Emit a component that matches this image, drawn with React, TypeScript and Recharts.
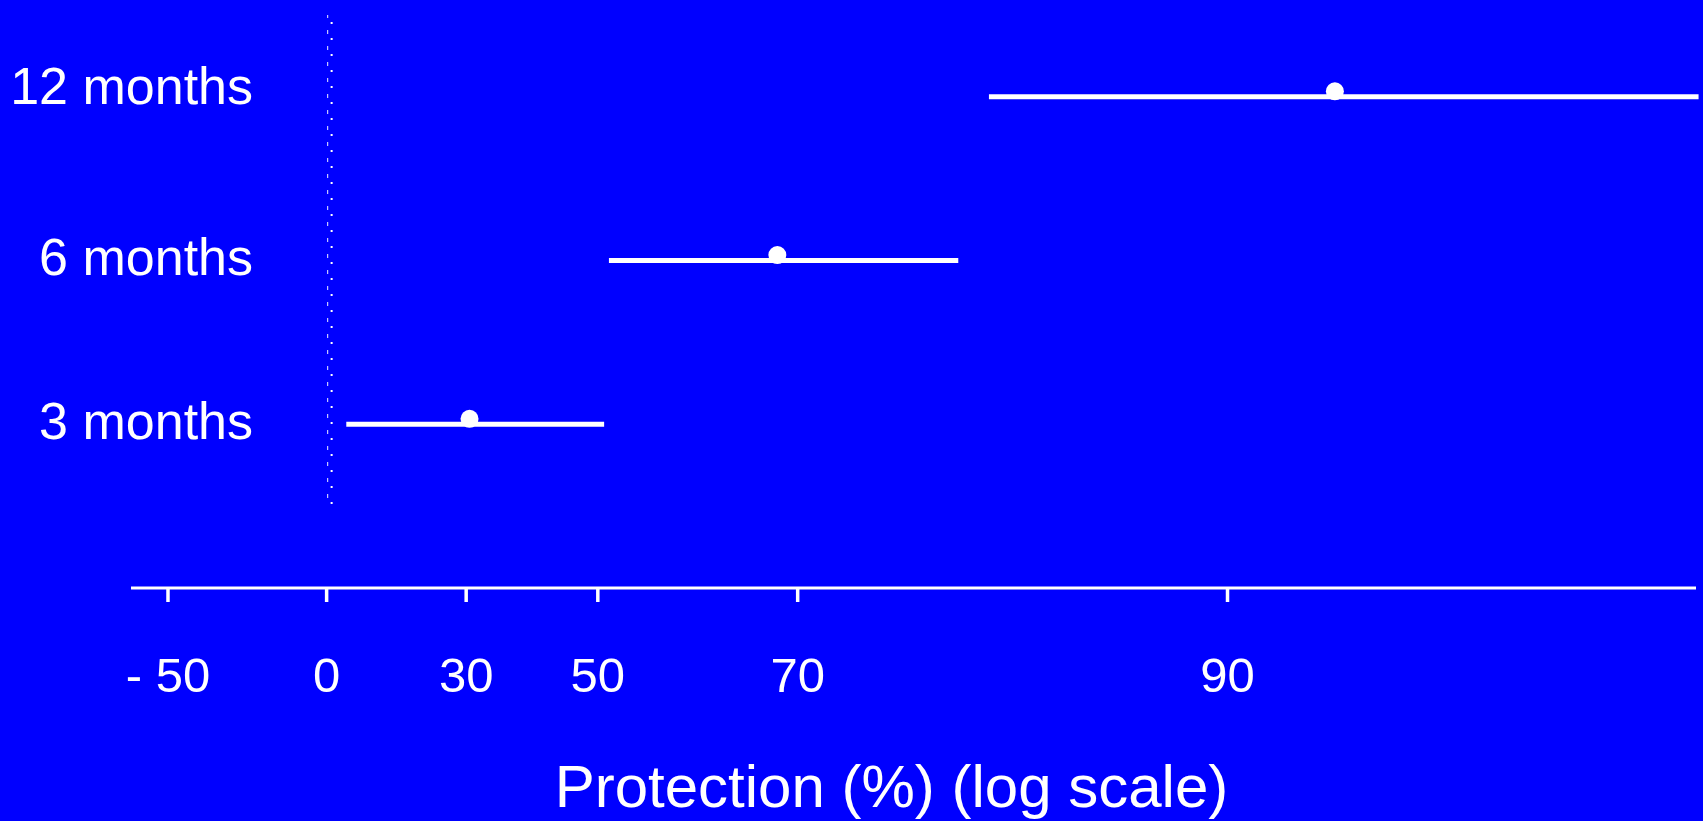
import { ErrorBar, ReferenceLine, Scatter, ScatterChart, XAxis, YAxis } from "recharts";

const periods = ["12 months", "6 months", "3 months"];
const rowPos = [3, 2, 1];
const protection = [92.4, 68.4, 30.6];
const ciLow = [81.6, 51.4, 4.9];
const ciHigh = [97, 80.1, 50.8];
const tickPercents = [-50, 0, 30, 50, 70, 90];

const FONT = "'Liberation Sans', Arial, Helvetica, sans-serif";
const BLUE = "#0000ff";

// protection (%) -> relative risk; the axis is log(RR), reversed
const toRR = (p: number) => 1 - p / 100;

const rows = periods.map((name, i) => {
  const rr = toRR(protection[i]);
  return {
    name,
    y: rowPos[i],
    rr,
    err: [rr - toRR(ciHigh[i]), toRR(ciLow[i]) - rr],
  };
});

const tickRR = tickPercents.map(toRR);

function fmtPct(v: number) {
  const p = Math.round((1 - v) * 100);
  return p < 0 ? `- ${-p}` : `${p}`;
}

function PeriodTick(props: any) {
  const { x, y, payload } = props;
  const i = rowPos.indexOf(payload.value);
  // the top label sits a little higher than its row in the original
  const nudge = i === 0 ? -8 : -1;
  return (
    <text x={x} y={y + nudge} dx={122} dy="0.3em" textAnchor="end" fill="#fff" fontSize={52} fontFamily={FONT}>
      {periods[i]}
    </text>
  );
}

function Dot(props: any) {
  return <circle cx={props.cx} cy={props.cy - 5.5} r={9} fill="#fff" />;
}

// dotted "no effect" line: a faint slash next to each dot
function NullLine(props: any) {
  const { x1, y1, x2, y2 } = props;
  return (
    <g>
      <line x1={x1 + 1} y1={y1} x2={x2 + 1} y2={y2} stroke="#c8c8ff" strokeWidth={1.2} strokeDasharray="4 12" />
      <line x1={x1 + 5} y1={y1 + 6} x2={x2 + 5} y2={y2 + 6} stroke="#fff" strokeWidth={2} strokeDasharray="2 14" />
    </g>
  );
}

export default function App() {
  return (
    <div style={{ width: 1703, height: 821, background: BLUE }}>
      <style>{"html,body{margin:0;padding:0;background:#0000ff;overflow:hidden}"}</style>
      <ScatterChart width={1703} height={821} margin={{ top: 15, right: 7, bottom: 0, left: 0 }}>
        <XAxis
          dataKey="rr"
          type="number"
          scale="log"
          reversed
          allowDataOverflow
          domain={[Math.exp(-3.5), Math.exp(0.5)]}
          ticks={tickRR}
          tickFormatter={fmtPct}
          height={233}
          axisLine={{ stroke: "#fff", strokeWidth: 3 }}
          tickLine={{ stroke: "#fff", strokeWidth: 3.5 }}
          tickSize={14}
          tickMargin={55}
          tick={{ fill: "#fff", fontSize: 49, fontFamily: FONT }}
          label={{
            value: "Protection (%) (log scale)",
            position: "insideBottom",
            offset: 14,
            dx: -22,
            fill: "#fff",
            fontSize: 60,
            fontFamily: FONT,
          }}
        />
        <YAxis
          dataKey="y"
          type="number"
          domain={[0, 3.5]}
          ticks={rowPos}
          width={131}
          axisLine={false}
          tickLine={false}
          tickSize={0}
          tickMargin={0}
          tick={<PeriodTick />}
        />
        <ReferenceLine
          segment={[{ x: 1, y: 0.55 }, { x: 1, y: 3.5 }]}
          shape={<NullLine />}
          ifOverflow="visible"
        />
        <Scatter data={rows} shape={<Dot />} isAnimationActive={false}>
          <ErrorBar dataKey="err" direction="x" width={0} stroke="#fff" strokeWidth={5} isAnimationActive={false} />
        </Scatter>
      </ScatterChart>
    </div>
  );
}
